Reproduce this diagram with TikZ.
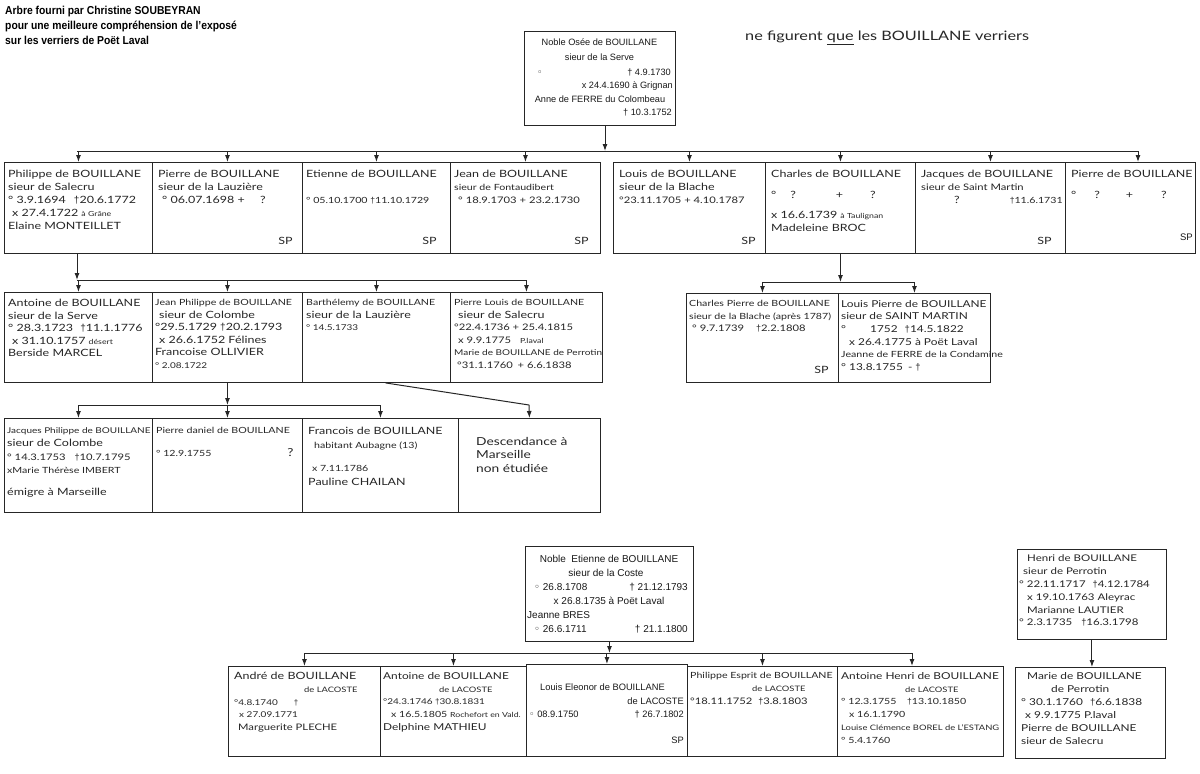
\documentclass[tikz,border=0pt]{standalone}
\usepackage{fontspec}
\setmainfont{Liberation Sans}
\newfontfamily\lib{Liberation Sans}
\newfontfamily\libn[FakeStretch=0.9]{Liberation Sans}
\newfontfamily\hand[FakeStretch=1.25]{Lato}
\newfontfamily\dvs{DejaVu Sans}
\usetikzlibrary{arrows.meta}
\newcommand\hs[1]{\fontsize{#1}{13}\selectfont}
\newcommand\dgr{{\lib †}}
\newcommand\wb{{\dvs ◦}}
\tikzset{
  box/.style={draw=black!85, line width=0.9pt, anchor=north west, inner sep=0pt, rectangle},
  ht/.style={font=\hand\fontsize{10}{13}\selectfont, align=left, inner sep=0pt, anchor=north west, text=black!85},
  hf/.style 2 args={font=\hand\fontsize{#1}{#2}\selectfont},
  prt/.style={font=\lib\fontsize{#1}{13}\selectfont, inner sep=0pt, text=black!90},
  ln/.style={line width=1pt, draw=black!85},
  arr/.style={ln, -{Latex[length=7pt,width=5pt]}},
}
\newcommand\bx[5]{\node[box, minimum width=#4pt, minimum height=#5pt] (#1) at (#2,#3) {};}
\newcommand\tx[5][]{\node[ht,#1] (#2t) at ([shift={(#3pt,-#4pt)}]#2.north west) {#5};}
\newcommand\spn[4][]{\node[ht,anchor=base east,#1] (#2sp) at ([shift={(-#3pt,#4pt)}]#2.south east) {SP};}
\begin{document}
\begin{tikzpicture}[x=1pt,y=-1pt]
\fill[white] (0,0) rectangle (1200,774);
\useasboundingbox (0,0) rectangle (1200,774);

% header
\node[font=\libn\bfseries\fontsize{11.5}{15}\selectfont, align=left, anchor=north west, inner sep=0pt] (hdr) at (5,6)
 {Arbre fourni par Christine SOUBEYRAN\\pour une meilleure compréhension de l’exposé\\sur les verriers de Poët Laval};
\node[ht, hf={13}{14}] (note) at (745,31) {ne figurent \underline{que} les BOUILLANE verriers};

% top box
\bx{osee}{524}{31}{151}{94}
\node[prt=9.2, anchor=base] (o1) at (599.5,45) {Noble Osée de BOUILLANE};
\node[prt=9.2, anchor=base] (o2) at (599.5,60) {sieur de la Serve};
\node[prt=9.2, anchor=base west] (o3a) at (537,75) {\wb};
\node[prt=9.2, anchor=base east] (o3b) at (671,75) {† 4.9.1730};
\node[prt=9.2, anchor=base east] (o4) at (673,88) {x 24.4.1690 à Grignan};
\node[prt=9.2, anchor=base] (o5) at (600,102) {Anne de FERRE du Colombeau};
\node[prt=9.2, anchor=base east] (o6) at (672,115) {† 10.3.1752};

% row 1
\bx{b1}{4}{162}{148}{91}
\bx{b2}{152}{162}{150}{91}
\bx{b3}{302}{162}{148}{91}
\bx{b4}{450}{162}{150}{91}
\bx{b5}{613}{162}{152}{91}
\bx{b6}{765}{162}{150}{91}
\bx{b7}{915}{162}{150}{91}
\bx{b8}{1065}{162}{130}{91}

\tx{b1}{4}{8}{Philippe de BOUILLANE\\sieur de Salecru\\° 3.9.1694\hspace{8pt}\dgr 20.6.1772\\\hspace{4pt}x 27.4.1722 {\hs{7}à Grâne}\\Elaine MONTEILLET}
\tx{b2}{6}{8}{Pierre de BOUILLANE\\sieur de la Lauzière\\\hspace{4pt}° 06.07.1698 + \hspace{12pt}?}
\spn{b2}{10}{9}
\tx{b3}{4}{8}{Etienne de BOUILLANE\\\mbox{}\\{\hs{8.5}° 05.10.1700 \dgr 11.10.1729}}
\spn{b3}{14}{9}
\tx{b4}{4}{8}{Jean de BOUILLANE\\{\hs{8.5}sieur de Fontaudibert}\\{\hs{9}\hspace{4pt}° 18.9.1703 + 23.2.1730}}
\spn{b4}{12}{9}
\tx{b5}{6}{8}{Louis de BOUILLANE\\sieur de la Blache\\{\hs{9}°23.11.1705 + 4.10.1787}}
\spn{b5}{10}{9}
\tx{b6}{6}{8}{Charles de BOUILLANE\\[8pt]°\hspace{14pt}?\hspace{40pt}+\hspace{27pt}?\\[7pt]x 16.6.1739 {\hs{7}à Taulignan}\\Madeleine BROC}
\tx{b7}{6}{8}{Jacques de BOUILLANE\\{\hs{9}sieur de Saint Martin}\\\hspace{33pt}?\hspace{50pt}{\hs{8.5}\dgr 11.6.1731}}
\spn{b7}{14}{9}
\tx{b8}{6}{8}{Pierre de BOUILLANE\\[8pt]°\hspace{18pt}?\hspace{26pt}+\hspace{28pt}?}
\node[prt=9.5, anchor=base east] (b8sp) at ([shift={(-3pt,13pt)}]b8.south east) {SP};

% row 2
\bx{c1}{4}{292}{148}{90}
\bx{c2}{152}{292}{150}{90}
\bx{c3}{302}{292}{148}{90}
\bx{c4}{450}{292}{152}{90}
\bx{d1}{686}{293}{152}{89}
\bx{d2}{838}{293}{152}{89}

\tx[hf={10}{12.6}]{c1}{4}{7}{Antoine de BOUILLANE\\sieur de la Serve\\° 28.3.1723 \hspace{4pt}\dgr 11.1.1776\\\hspace{4pt}x 31.10.1757 {\hs{7}désert}\\Berside MARCEL}
\tx[hf={10}{12.6}]{c2}{3}{7}{{\hs{8.5}Jean Philippe de BOUILLANE}\\\hspace{4pt}sieur de Colombe\\°29.5.1729 \dgr 20.2.1793\\\hspace{4pt}x 26.6.1752 Félines\\Francoise OLLIVIER\\{\hs{8}° 2.08.1722}}
\tx[hf={10}{12.6}]{c3}{4}{7}{{\hs{8.5}Barthélemy de BOUILLANE}\\sieur de la Lauzière\\{\hs{8}° 14.5.1733}}
\tx[hf={10}{12.6}]{c4}{4}{7}{{\hs{8.5}Pierre Louis de BOUILLANE}\\\hspace{4pt}sieur de Salecru\\{\hs{9}°22.4.1736 + 25.4.1815}\\\hspace{4pt}{\hs{9}x 9.9.1775 \hspace{6pt}{\hs{7}P.laval}}\\{\hs{8}Marie de BOUILLANE de Perrotin}\\{\hs{9}\hspace{3pt}°31.1.1760 \hspace{2pt}+ 6.6.1838}}
\tx[hf={8.5}{12.6}]{d1}{3}{7}{Charles Pierre de BOUILLANE\\sieur de la Blache (après 1787)\\\hspace{3pt}{\hs{9}° 9.7.1739\hspace{12pt}\dgr 2.2.1808}}
\spn{d1}{10}{9}
\tx[hf={9.5}{12.6}]{d2}{3}{7}{Louis Pierre de BOUILLANE\\sieur de SAINT MARTIN\\°\hspace{24pt}1752 \hspace{4pt}\dgr 14.5.1822\\\hspace{8pt}x 26.4.1775 à Poët Laval\\{\hs{8.5}Jeanne de FERRE de la Condamine}\\° 13.8.1755 \hspace{2pt}- \dgr}

% row 3
\bx{e1}{4}{418}{148}{94}
\bx{e2}{152}{418}{150}{94}
\bx{e3}{302}{418}{156}{94}
\bx{e4}{458}{418}{142}{94}

\tx[hf={10}{13.5}]{e1}{3}{9}{{\hs{8}Jacques Philippe de BOUILLANE}\\sieur de Colombe\\{\hs{9}° 14.3.1753 \hspace{6pt}\dgr 10.7.1795}\\{\hs{8.5}xMarie Thérèse IMBERT}\\[8pt]émigre à Marseille}
\tx[hf={8.5}{13.5}]{e2}{4}{9}{Pierre daniel de BOUILLANE\\[10pt]° 12.9.1755\hspace{76pt}{\hs{11}?}}
\tx[hf={10}{13.5}]{e3}{6}{9}{Francois de BOUILLANE\\\hspace{6pt}{\hs{8.5}habitant Aubagne (13)}\\[10pt]\hspace{4pt}{\hs{8.5}x 7.11.1786}\\Pauline CHAILAN}
\tx[hf={11}{13.5}]{e4}{18}{19}{Descendance à\\Marseille\\non étudiée}

% bottom: Etienne
\bx{et}{525}{546}{168}{95}
\node[prt=10, anchor=base] (et1) at (609,562) {Noble\ \ Etienne de BOUILLANE};
\node[prt=10, anchor=base] (et2) at (606,576) {sieur de la Coste};
\node[prt=10, anchor=base west] (et3a) at (534,590) {\wb\ 26.8.1708};
\node[prt=10, anchor=base east] (et3b) at (688,590) {† 21.12.1793};
\node[prt=10, anchor=base] (et4) at (609,604) {x 26.8.1735 à Poët Laval};
\node[prt=10, anchor=base west] (et5) at (527,618) {Jeanne BRES};
\node[prt=10, anchor=base west] (et6a) at (534,632) {\wb\ 26.6.1711};
\node[prt=10, anchor=base east] (et6b) at (688,632) {† 21.1.1800};

% bottom row
\bx{g1}{228}{666}{152}{90}
\bx{g2}{380}{666}{146}{90}
\bx{g3}{526}{664}{161}{92}
\bx{g4}{687}{666}{150}{90}
\bx{g5}{837}{666}{166}{90}

\tx[hf={10}{12.8}]{g1}{6}{6}{André de BOUILLANE\\\hspace{70pt}{\hs{7.5}de LACOSTE}\\{\hs{8}°4.8.1740\hspace{16pt}\dgr}\\\hspace{5pt}{\hs{8}x 27.09.1771}\\\hspace{4pt}{\hs{9}Marguerite PLECHE}}
\tx[hf={9.5}{12.8}]{g2}{3}{6}{Antoine de BOUILLANE\\\hspace{56pt}{\hs{7.5}de LACOSTE}\\{\hs{8}°24.3.1746 \dgr30.8.1831}\\\hspace{8pt}{\hs{8.5}x 16.5.1805 {\hs{7}Rochefort en Vald.}}\\Delphine MATHIEU}
\node[prt=9.3, anchor=base west] (g3a) at (540,690) {Louis Eleonor de BOUILLANE};
\node[prt=9.3, anchor=base east] (g3b) at (684,704) {de LACOSTE};
\node[prt=9.3, anchor=base west] (g3c) at (529,717) {\wb\ 08.9.1750};
\node[prt=9.3, anchor=base east] (g3d) at (684,717) {† 26.7.1802};
\node[prt=9.3, anchor=base east] (g3sp) at (684,743) {SP};
\tx[hf={8.5}{12.8}]{g4}{3}{6}{Philippe Esprit de BOUILLANE\\\hspace{62pt}{\hs{7.5}de LACOSTE}\\{\hs{9}°18.11.1752 \hspace{3pt}\dgr 3.8.1803}}
\tx[hf={9.5}{12.8}]{g5}{4}{6}{Antoine Henri de BOUILLANE\\\hspace{64pt}{\hs{7.5}de LACOSTE}\\{\hs{8.5}° 12.3.1755 \hspace{8pt}\dgr 13.10.1850}\\\hspace{8pt}{\hs{8.5}x 16.1.1790}\\{\hs{7.5}Louise Clémence BOREL de L’ESTANG}\\{\hs{8.5}° 5.4.1760}}

% Henri / Marie
\bx{h1}{1017}{549}{149}{90}
\bx{h2}{1015}{667}{150}{91}
\tx[hf={9.2}{12.8}]{h1}{2}{6}{\hspace{8pt}Henri de BOUILLANE\\\hspace{4pt}sieur de Perrotin\\° 22.11.1717 \hspace{4pt}\dgr 4.12.1784\\\hspace{8pt}x 19.10.1763 Aleyrac\\\hspace{8pt}Marianne LAUTIER\\° 2.3.1735 \hspace{6pt}\dgr 16.3.1798}
\tx[hf={9.5}{13}]{h2}{6}{5}{\hspace{6pt}Marie de BOUILLANE\\\hspace{30pt}de Perrotin\\° 30.1.1760 \hspace{4pt}\dgr 6.6.1838\\\hspace{4pt}x 9.9.1775 P.laval\\Pierre de BOUILLANE\\sieur de Salecru}

% connectors
\coordinate (j1) at (605,151);
\coordinate (bar1L) at (77,151);
\coordinate (bar1R) at (1138,151);
\draw[arr] (osee.south -| j1) -- (j1);
\draw[ln] (bar1L) -- (bar1R);
\foreach \b in {b1,b2,b3,b4,b5,b6,b7} \draw[arr] (\b.north |- bar1L) -- (\b.north);
\draw[arr] (bar1R) -- (bar1R |- b8.north);

\coordinate (bar2L) at (77,280);
\coordinate (bar2R) at (527,280);
\draw[arr] (b1.south -| bar2L) -- (bar2L);
\draw[ln] (bar2L) -- (bar2R);
\foreach \b in {c1,c2,c3,c4} \draw[arr] (\b.north |- bar2L) -- (\b.north);

\coordinate (bar3L) at (762,282);
\coordinate (bar3R) at (914,282);
\draw[arr] (b6.south) -- (b6.south |- bar3L);
\draw[ln] (bar3L) -- (bar3R);
\foreach \b in {d1,d2} \draw[arr] (\b.north |- bar3L) -- (\b.north);

\coordinate (bar4L) at (78,405);
\coordinate (bar4R) at (380,405);
\draw[arr] (c2.south) -- (c2.south |- bar4L);
\draw[ln] (bar4L) -- (bar4R);
\foreach \b in {e1,e2,e3} \draw[arr] (\b.north |- bar4L) -- (\b.north);
\coordinate (sl) at (529,405);
\draw[ln] ([xshift=9pt]c3.south) -- (sl);
\draw[arr] (sl) -- (e4.north);

\coordinate (bar5L) at (305,653);
\coordinate (bar5R) at (912,653);
\draw[arr] (et.south) -- (et.south |- bar5L);
\draw[ln] (bar5L) -- (bar5R);
\foreach \b in {g1,g2,g3,g4} \draw[arr] (\b.north |- bar5L) -- (\b.north);
\draw[arr] (bar5R) -- (bar5R |- g5.north);

\draw[arr] (h1.south) -- (h1.south |- h2.north);
\end{tikzpicture}
\end{document}
